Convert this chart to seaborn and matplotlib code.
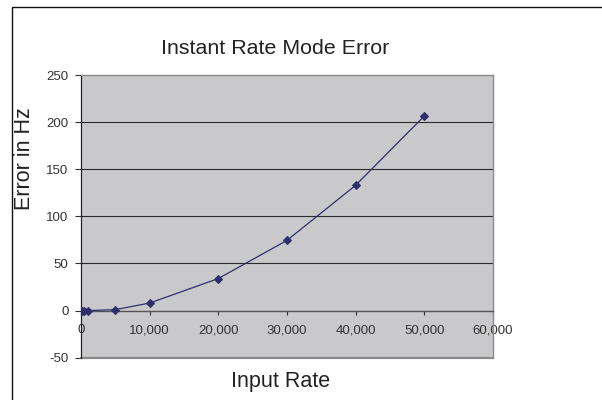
import matplotlib
matplotlib.use('Agg')
import matplotlib.pyplot as plt
from matplotlib.patches import Rectangle
from matplotlib.ticker import FuncFormatter
import seaborn as sns
import pandas as pd

# data
input_rate = [100, 500, 1000, 5000, 10000, 20000, 30000, 40000, 50000]
error_hz = [0, 0, 0, 1, 8, 34, 74.5, 133, 206.5]

title = 'Instant Rate Mode Error'
x_label = 'Input Rate'
y_label = 'Error in Hz'
x_ticks = [0, 10000, 20000, 30000, 40000, 50000, 60000]
y_ticks = [-50, 0, 50, 100, 150, 200, 250]

sns.set_style('white')
plt.rcParams['font.family'] = ['Liberation Sans', 'DejaVu Sans']
plt.rcParams['axes.unicode_minus'] = False

df = pd.DataFrame({'rate': input_rate, 'err': error_hz})

fig = plt.figure(figsize=(6.02, 4.0), dpi=100)
ax = fig.add_axes([81 / 602, 42.3 / 400, 412 / 602, 282.7 / 400])
ax.set_facecolor('#c9c9cb')

# grid lines like excel
for v in [50, 100, 150, 200]:
    ax.axhline(v, color='#2a2a2a', lw=0.8, zorder=1)

sns.lineplot(data=df, x='rate', y='err', ax=ax, color='#2f2f6e', lw=0.9,
             marker='D', markersize=4.5, markeredgecolor='#2f2f6e', zorder=3)

ax.set_xlim(0, 60000)
ax.set_ylim(-50, 250)
ax.set_xticks(x_ticks)
ax.set_yticks(y_ticks)
ax.xaxis.set_major_formatter(FuncFormatter(lambda v, p: f'{int(v):,}'))

ax.spines['bottom'].set_position(('data', 0))
ax.spines['bottom'].set_color('#555555')
ax.spines['bottom'].set_linewidth(1.0)
ax.spines['left'].set_color('#222222')
ax.spines['left'].set_linewidth(0.9)
for s in ['top', 'right']:
    ax.spines[s].set_color('#8a8a8a')
    ax.spines[s].set_linewidth(1.0)
ax.axhline(-50, color='#8a8a8a', lw=1.6, zorder=2, clip_on=False)

ax.tick_params(axis='x', direction='out', length=3, width=0.8, color='#333333',
               pad=7, labelsize=9.5, labelcolor='#333333', bottom=True)
ax.tick_params(axis='y', direction='out', length=4, width=0.8, color='#333333',
               pad=5, labelsize=9.5, labelcolor='#333333', left=True)
ax.set_xlabel('')
ax.set_ylabel('')

fig.text(275 / 602, 1 - 48 / 400, title, ha='center', va='center',
         fontsize=15.4, color='#222222')
fig.text(281 / 602, 1 - 382 / 400, x_label, ha='center', va='center',
         fontsize=15.5, color='#222222')
fig.text(25 / 602, 1 - 159 / 400, y_label, ha='center', va='center',
         rotation=90, fontsize=15.5, color='#222222')

# chart border
fig.patches.append(Rectangle((11.7 / 602, -0.02), 1.0, 1 - 7.3 / 400 + 0.02,
                             transform=fig.transFigure, fill=False,
                             edgecolor='#111111', lw=1.0))

fig.savefig('out.png', dpi=100)
